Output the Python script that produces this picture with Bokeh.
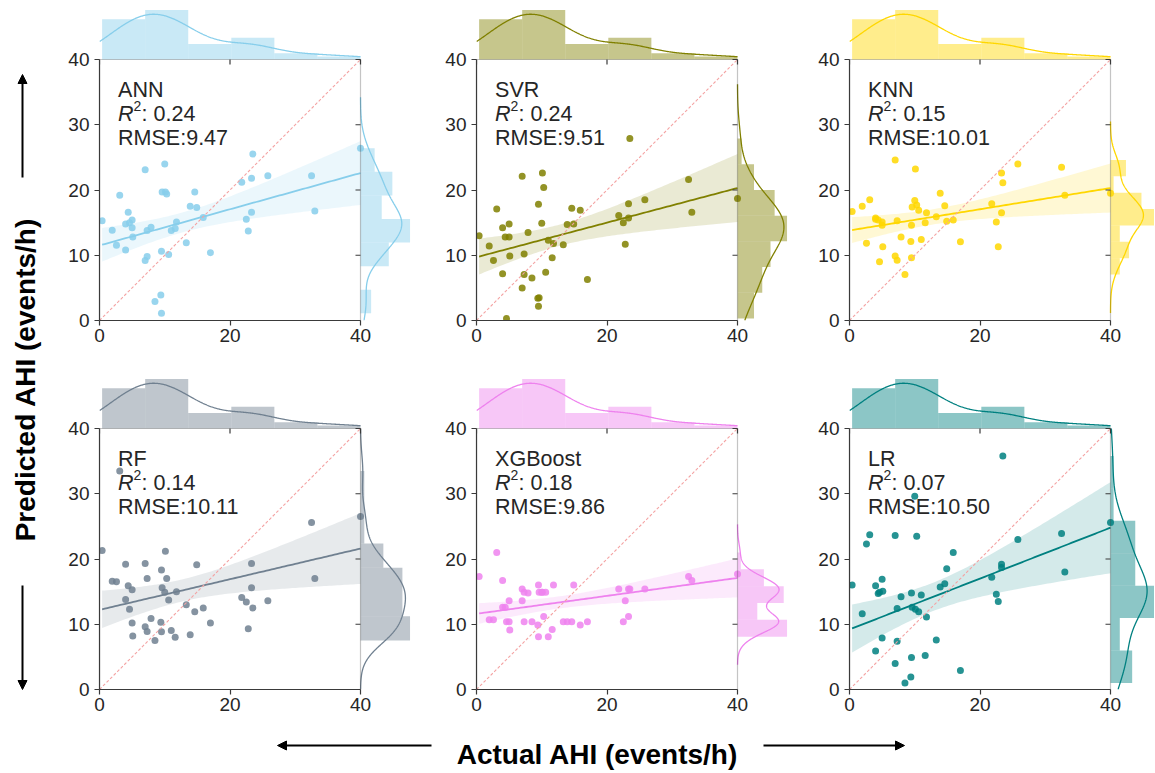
import numpy as np
from bokeh.plotting import figure
from bokeh.layouts import row, column
from bokeh.models import (Range1d, FixedTicker, Label, Arrow, NormalHead, BoxAnnotation, Spacer)
from bokeh.embed import file_html
from bokeh.resources import INLINE

# ---------------- data ----------------
actual = [0.4, 1.95, 2.6, 3.1, 4.0, 4.0, 4.4, 4.6, 5.0, 5.0, 5.1, 7.0, 7.0, 7.3, 7.3,
          7.9, 8.5, 9.4, 9.5, 9.5, 9.6, 10.0, 10.1, 10.3, 10.6, 11.0, 11.6, 11.8, 13.3,
          13.9, 14.6, 14.9, 15.9, 17.0, 21.8, 22.5, 22.8, 23.3, 23.3, 23.5, 25.8, 32.5,
          33.0, 40.0]

pred_ann = [15.3, 13.85, 11.55, 19.2, 14.8, 10.8, 16.6, 15.0, 15.4, 14.2, 12.8, 23.1, 9.2,
            9.8, 13.8, 14.3, 2.9, 3.9, 1.1, 10.6, 19.7, 24.0, 19.7, 19.4, 10.1, 13.8, 14.1,
            15.1, 11.9, 17.5, 19.7, 17.3, 15.8, 10.4, 21.2, 15.5, 13.7, 21.8, 16.6, 25.5,
            22.2, 22.2, 16.8, 26.4]
pred_svr = [13.0, 11.4, 9.2, 17.1, 14.2, 7.15, 12.8, 0.3, 14.8, 12.8, 9.9, 22.1, 5.0, 10.2,
            7.05, 13.5, 6.5, 3.4, 2.2, 17.8, 3.5, 14.9, 22.6, 20.4, 7.4, 12.3, 9.6, 11.8,
            11.6, 14.7, 17.2, 14.8, 16.9, 6.3, 16.1, 15.0, 11.7, 17.9, 15.7, 27.9, 18.5,
            21.6, 16.6, 18.7]
pred_knn = [16.7, 17.5, 11.85, 18.5, 15.7, 15.5, 15.4, 9.0, 15.1, 14.6, 11.3, 24.6, 9.9,
            9.25, 15.3, 12.8, 7.05, 12.1, 9.6, 14.6, 17.4, 18.4, 23.2, 17.7, 16.9, 12.4,
            15.0, 16.5, 15.9, 19.5, 17.6, 15.2, 15.4, 12.05, 17.9, 15.1, 11.3, 22.6, 16.5,
            21.1, 24.0, 23.5, 19.2, 19.5]
pred_rf = [21.3, 16.6, 16.5, 33.5, 13.8, 19.2, 15.9, 12.3, 15.3, 10.2, 8.2, 19.3, 9.6, 8.9,
           17.0, 10.9, 7.5, 10.3, 18.3, 8.85, 15.6, 14.9, 21.2, 17.0, 13.7, 9.05, 8.0, 15.0,
           13.0, 8.4, 11.9, 19.1, 12.5, 10.2, 14.1, 13.4, 9.3, 19.3, 15.6, 12.5, 13.6, 25.6,
           17.0, 26.5]
pred_xgb = [17.3, 10.7, 10.7, 21.0, 16.7, 12.6, 12.6, 10.4, 13.6, 10.4, 9.1, 15.4, 13.6,
            10.4, 14.9, 14.8, 10.4, 9.9, 8.1, 16.0, 14.9, 14.9, 14.9, 11.2, 14.9, 8.1, 9.2,
            16.0, 10.4, 10.4, 10.4, 16.0, 9.9, 10.4, 15.4, 10.4, 13.6, 11.2, 15.4, 15.4,
            15.4, 17.3, 16.7, 17.7]
pred_lr = [16.0, 11.6, 22.3, 23.7, 15.9, 5.9, 14.7, 14.9, 16.9, 7.9, 15.05, 23.6, 4.0, 7.4,
           12.4, 14.2, 1.0, 1.9, 4.9, 14.8, 12.6, 29.6, 12.3, 23.5, 11.9, 14.5, 5.2, 11.1,
           7.6, 15.7, 16.2, 18.5, 21.0, 2.9, 17.2, 14.6, 13.5, 19.2, 18.7, 35.8, 23.0, 23.9,
           18.0, 25.6]

models = ["ANN", "SVR", "KNN", "RF", "XGBoost", "LR"]
predictions = [pred_ann, pred_svr, pred_knn, pred_rf, pred_xgb, pred_lr]
colors = ["#87CEEB", "#808000", "#FFD700", "#708090", "#EE82EE", "#008080"]
r2_labels = ["0.24", "0.24", "0.15", "0.14", "0.18", "0.07"]
rmse_labels = ["9.47", "9.51", "10.01", "10.11", "9.86", "10.50"]
# regression line (value at actual = 0 and actual = 40)
fit_at_0 = [11.5, 9.7, 13.8, 12.2, 11.6, 9.2]
fit_at_40 = [22.6, 20.3, 20.3, 21.6, 17.1, 24.8]
x_ticks = [0, 20, 40]
y_ticks = [0, 10, 20, 30, 40]
top_bins = 6
right_bins = [7, 7, 7, 7, 5, 7]

# ---------------- style ----------------
FONT = "Liberation Sans"
SPINE = "#3a3a3a"
TXT = "#262626"
LIM = 40.0
FRAME = 261
MARG = 52
LEFT_B = 40
right_frame = [52, 52, 44]
right_pad = [24, 20, 0]
bottom_b = [56, 28]
TICK = 5
PAD = 7


def kde(v, binw, lo, hi):
    v = np.asarray(v, float)
    n = len(v)
    bw = v.std(ddof=1) * n ** (-0.2)
    g = np.linspace(max(v.min() - 3 * bw, lo), min(v.max() + 3 * bw, hi), 400)
    d = np.exp(-0.5 * ((g[:, None] - v[None, :]) / bw) ** 2).sum(axis=1) / (n * bw * np.sqrt(2 * np.pi))
    return g, d * n * binw


def band(x, y, a0, a40):
    x = np.asarray(x, float)
    y = np.asarray(y, float)
    n = len(x)
    b = (a40 - a0) / LIM
    xs = np.linspace(x.min(), x.max(), 100)
    yh = a0 + b * xs
    res = y - (a0 + b * x)
    s = np.sqrt((res ** 2).sum() / (n - 2))
    xm = x.mean()
    sxx = ((x - xm) ** 2).sum()
    se = s * np.sqrt(1.0 / n + (xs - xm) ** 2 / sxx)
    t = 2.018
    return xs, yh, yh - t * se, yh + t * se


def style_axis(ax, standoff):
    ax.bounds = (0, LIM)
    ax.major_tick_out = TICK
    ax.major_tick_in = 0
    ax.minor_tick_out = 0
    ax.minor_tick_in = 0
    ax.axis_line_color = SPINE
    ax.axis_line_width = 1.2
    ax.major_tick_line_color = SPINE
    ax.major_tick_line_width = 1.2
    ax.major_label_text_font = FONT
    ax.major_label_text_font_size = "19px"
    ax.major_label_text_color = TXT
    ax.major_label_standoff = standoff


def make_panel(i, rowi, coli):
    x = np.asarray(actual, float)
    y = np.asarray(predictions[i], float)
    col = colors[i]
    rf = right_frame[coli]
    xr = Range1d(0, LIM * (FRAME + rf) / FRAME)
    yr = Range1d(0, LIM * (FRAME + MARG) / FRAME)

    p = figure(frame_width=FRAME + rf, frame_height=FRAME + MARG, x_range=xr, y_range=yr,
               output_backend="svg", toolbar_location=None,
               min_border_left=LEFT_B, min_border_right=right_pad[coli], min_border_top=0,
               min_border_bottom=bottom_b[rowi])
    p.xaxis.ticker = FixedTicker(ticks=x_ticks)
    p.yaxis.ticker = FixedTicker(ticks=y_ticks)
    style_axis(p.xaxis[0], 3)
    style_axis(p.yaxis[0], 5)
    p.grid.visible = False
    p.outline_line_color = None

    # marginal count ranges (count 0 sits on the main box edge)
    cnt, edges = np.histogram(x, bins=top_bins)
    g, d = kde(x, edges[1] - edges[0], 0, LIM)
    ymax = 1.05 * max(cnt.max(), d.max())
    cnt2, edges2 = np.histogram(y, bins=right_bins[i])
    g2, d2 = kde(y, edges2[1] - edges2[0], 0, LIM)
    xmax = 1.05 * max(cnt2.max(), d2.max())
    p.extra_y_ranges = {"top": Range1d(-ymax * FRAME / MARG, ymax)}
    p.extra_x_ranges = {"right": Range1d(-xmax * FRAME / MARG, xmax * rf / MARG)}

    p.quad(left=edges[:-1], right=edges[1:], bottom=0, top=cnt, fill_color=col,
           fill_alpha=0.45, line_color=None, y_range_name="top")
    p.line(g, d, line_color=col, line_width=1.3, y_range_name="top")
    p.quad(left=0, right=cnt2, bottom=edges2[:-1], top=edges2[1:], fill_color=col,
           fill_alpha=0.45, line_color=None, x_range_name="right")
    p.line(d2, g2, line_color=col, line_width=1.3, x_range_name="right")

    xs, yh, lo, hi = band(x, y, fit_at_0[i], fit_at_40[i])
    p.varea(x=xs, y1=lo, y2=hi, fill_color=col, fill_alpha=0.17)
    p.scatter(x, y, size=7, fill_color=col, fill_alpha=0.85, line_color=None)
    p.line(xs, yh, line_color=col, line_width=1.8)
    p.line([0, LIM], [0, LIM], line_color="#f4a3a3", line_alpha=1.0, line_width=1.1,
           line_dash="3 2")

    # box spines and inward ticks on the top / right spine
    p.add_layout(BoxAnnotation(left=0, right=LIM, bottom=0, top=LIM, fill_alpha=0,
                               line_color=SPINE, line_width=1.2))
    tl = TICK * LIM / FRAME
    yt = np.array(y_ticks, float)
    xt = np.array(x_ticks, float)
    p.segment(x0=LIM, y0=yt, x1=LIM - tl, y1=yt, line_color=SPINE, line_width=1.2)
    p.segment(x0=xt, y0=LIM, x1=xt, y1=LIM - tl, line_color=SPINE, line_width=1.2)

    fs = "21.5px"
    p.add_layout(Label(x=2.85, y=LIM, y_offset=-30.5, text=models[i], text_font=FONT,
                       text_font_size=fs, text_color=TXT, text_baseline="alphabetic"))
    p.add_layout(Label(x=2.85, y=LIM, y_offset=-54.5, text="R", text_font=FONT,
                       text_font_style="italic", text_font_size=fs, text_color=TXT,
                       text_baseline="alphabetic"))
    p.add_layout(Label(x=2.85, y=LIM, x_offset=15.5, y_offset=-46, text="2", text_font=FONT,
                       text_font_size="14px", text_color=TXT, text_baseline="alphabetic"))
    p.add_layout(Label(x=2.85, y=LIM, x_offset=23.5, y_offset=-54.5, text=": " + r2_labels[i],
                       text_font=FONT, text_font_size=fs, text_color=TXT,
                       text_baseline="alphabetic"))
    p.add_layout(Label(x=2.85, y=LIM, y_offset=-78.5, text="RMSE:" + rmse_labels[i],
                       text_font=FONT, text_font_size=fs, text_color=TXT,
                       text_baseline="alphabetic"))
    return p


rows = []
for rowi in range(2):
    rows.append(row(*[make_panel(rowi * 3 + c, rowi, c) for c in range(3)], spacing=0))
grid = column(*rows, spacing=0)

GRID_H = 2 * (FRAME + MARG) + sum(bottom_b)
LAB_W = 52
TOTAL_W = LAB_W + 3 * (LEFT_B + FRAME) + sum(right_frame) + sum(right_pad)

# left label figure (pixel coordinates)
lf = figure(width=LAB_W, height=GRID_H, x_range=Range1d(0, LAB_W), y_range=Range1d(0, GRID_H),
            output_backend="svg", toolbar_location=None, x_axis_location=None,
            y_axis_location=None, min_border=0)
lf.grid.visible = False
lf.outline_line_color = None
lf.add_layout(Label(x=18, y=GRID_H - 372, text="Predicted AHI (events/h)", angle=np.pi / 2,
                    text_font=FONT, text_font_style="bold", text_font_size="28px",
                    text_color="black", text_align="center", text_baseline="middle"))
lf.add_layout(Arrow(end=NormalHead(size=9, fill_color="black", line_color="black"),
                    x_start=15, y_start=GRID_H - 170, x_end=15, y_end=GRID_H - 67,
                    line_width=2, line_color="black"))
lf.add_layout(Arrow(end=NormalHead(size=9, fill_color="black", line_color="black"),
                    x_start=15, y_start=GRID_H - 578, x_end=15, y_end=GRID_H - 682,
                    line_width=2, line_color="black"))

XL_H = 54
xf = figure(width=TOTAL_W, height=XL_H, x_range=Range1d(0, TOTAL_W), y_range=Range1d(0, XL_H),
            output_backend="svg", toolbar_location=None, x_axis_location=None,
            y_axis_location=None, min_border=0)
xf.grid.visible = False
xf.outline_line_color = None
xf.add_layout(Label(x=590, y=17, text="Actual AHI (events/h)", text_font=FONT,
                    text_font_style="bold", text_font_size="28px", text_color="black",
                    text_align="center", text_baseline="alphabetic"))
xf.add_layout(Arrow(end=NormalHead(size=9, fill_color="black", line_color="black"),
                    x_start=424, y_start=26, x_end=270, y_end=26, line_width=2,
                    line_color="black"))
xf.add_layout(Arrow(end=NormalHead(size=9, fill_color="black", line_color="black"),
                    x_start=756, y_start=26, x_end=897, y_end=26, line_width=2,
                    line_color="black"))

inner = column(row(lf, grid, spacing=0), xf, spacing=0)
layout = column(Spacer(width=TOTAL_W + PAD, height=PAD),
                row(Spacer(width=PAD, height=GRID_H + XL_H), inner, spacing=0),
                spacing=0)

open("out.html", "w").write(file_html(layout, INLINE))
